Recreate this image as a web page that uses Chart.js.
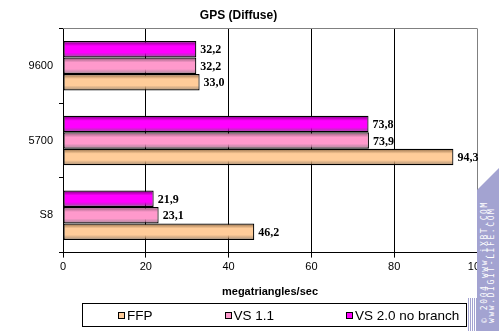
<!DOCTYPE html>
<html lang="en">
<head>
    <meta charset="UTF-8">
    <title>GPS (Diffuse)</title>
    <style>
        body {
            margin: 0;
            background: #fff;
            font-family: Arial, "Liberation Sans", sans-serif;
        }
        .wrap {
            position: relative;
            width: 499px;
            height: 331px;
            overflow: hidden;
        }
        /* legend box under the axis title */
        .legend {
            position: absolute;
            left: 82px;
            top: 303px;
            width: 348px;
            height: 22px;
            border: 1px solid #000;
            display: flex;
            align-items: center;
            padding-left: 35px;
            box-sizing: content-box;
            font-size: 13.5px;
            color: #000;
        }
        .legend .item {
            display: flex;
            align-items: center;
            margin-right: 72px;
            white-space: nowrap;
        }
        .legend .swatch {
            width: 5px;
            height: 5px;
            border: 1px solid #000;
            margin-right: 2px;
        }
        /* site stamp on the right edge */
        .stamp {
            position: absolute;
            left: 477px;
            top: 168px;
            width: 22px;
            height: 163px;
            background: #a3a3d1;
            clip-path: polygon(0 22px, 22px 0, 22px 100%, 0 100%);
        }
        .stamp .txt {
            position: absolute;
            left: 4px;
            top: 155px;
            transform-origin: left top;
            transform: rotate(-90deg);
            font-family: "DejaVu Sans Mono", monospace;
            font-size: 8px;
            line-height: 7px;
            letter-spacing: 1.6px;
            color: #fff;
            white-space: nowrap;
        }
        .stripes {
            position: absolute;
            left: 468px;
            top: 298px;
            width: 9px;
            height: 33px;
            background: repeating-linear-gradient(90deg, #a3a3d1 0 1px, #fff 1px 2px);
        }
    </style>
</head>
<body>
<div class="wrap">
    <canvas id="gps" width="499" height="331"></canvas>
    <div class="legend" id="legend"></div>
    <div class="stripes"></div>
    <div class="stamp"><div class="txt">© 2004 www.iXBT.COM<br>www.DIGIT-LIFE.COM</div></div>
</div>

<script src="https://cdn.jsdelivr.net/npm/chart.js"></script>
<script>
    // categories top to bottom
    const cards = ['9600', '5700', 'S8'];
    const seriesNames = ['FFP', 'VS 1.1', 'VS 2.0 no branch'];
    const ffp = [33.0, 94.3, 46.2];
    const vs11 = [32.2, 73.9, 23.1];
    const vs20 = [32.2, 73.8, 21.9];
    const xTicks = [0, 20, 40, 60, 80, 100];

    // [edge shade, light face] for each series
    const shades = {
        'FFP': ['#8f6a45', '#ffcc99'],
        'VS 1.1': ['#8d5a76', '#ff99cc'],
        'VS 2.0 no branch': ['#7a007a', '#ff00ff']
    };
    const catPct = 0.66;

    // vertical shading across each bar, computed from the category scale
    function barFill(ctx) {
        const chart = ctx.chart;
        const y = chart.scales.y;
        const ds = ctx.datasetIndex;
        const s = shades[chart.data.datasets[ds].label];
        if (!y || ctx.dataIndex === undefined) return s[1];
        const n = chart.data.datasets.length;
        const catH = y.height / cards.length;
        const barH = catH * catPct / n;
        const center = y.getPixelForValue(ctx.dataIndex);
        const top = center - catH * catPct / 2 + ds * barH;
        if (!isFinite(top) || !isFinite(barH) || barH <= 0) return s[1];
        const g = chart.ctx.createLinearGradient(0, top, 0, top + barH);
        g.addColorStop(0, s[0]);
        g.addColorStop(0.3, s[1]);
        g.addColorStop(0.7, s[1]);
        g.addColorStop(1, s[0] + 'aa');
        return g;
    }

    // value labels to the right of every bar, comma decimals
    const valueLabels = {
        id: 'valueLabels',
        afterDatasetsDraw(chart) {
            const c = chart.ctx;
            c.save();
            c.font = 'bold 12px "Liberation Serif", "Times New Roman", serif';
            c.fillStyle = '#000';
            c.textBaseline = 'middle';
            chart.data.datasets.forEach((ds, i) => {
                chart.getDatasetMeta(i).data.forEach((bar, j) => {
                    const txt = ds.data[j].toFixed(1).replace('.', ',');
                    c.fillText(txt, bar.x + 4, bar.y + 1);
                });
            });
            c.restore();
        }
    };

    // gray frame on top of the plot
    const plotFrame = {
        id: 'plotFrame',
        afterDraw(chart) {
            const a = chart.chartArea;
            const c = chart.ctx;
            c.save();
            c.strokeStyle = '#808080';
            c.lineWidth = 1;
            c.beginPath();
            c.moveTo(a.left, Math.round(a.top) + 0.5);
            c.lineTo(a.right, Math.round(a.top) + 0.5);
            c.stroke();
            c.restore();
        }
    };

    // drawn top to bottom inside each category
    const stackOrder = [[vs20, 2], [vs11, 1], [ffp, 0]];
    const datasets = stackOrder.map(([vals, k]) => ({
        label: seriesNames[k],
        data: vals,
        backgroundColor: barFill,
        borderColor: '#000',
        borderWidth: 1.2,
        borderSkipped: false,
        barPercentage: 1,
        categoryPercentage: catPct
    }));

    const chart = new Chart(document.getElementById('gps'), {
        type: 'bar',
        data: { labels: cards, datasets: datasets },
        options: {
            indexAxis: 'y',
            responsive: false,
            animation: false,
            layout: { padding: { left: 0, right: 22, top: 0, bottom: 31 } },
            plugins: {
                legend: { display: false },
                tooltip: { enabled: false },
                title: {
                    display: true,
                    text: 'GPS (Diffuse)',
                    color: '#000',
                    font: { family: 'Arial, "Liberation Sans", sans-serif', size: 12, weight: 'bold' },
                    padding: { top: 8, bottom: 6 }
                }
            },
            scales: {
                x: {
                    min: 0,
                    max: 100,
                    afterBuildTicks(scale) {
                        scale.ticks = xTicks.map(v => ({ value: v }));
                    },
                    ticks: {
                        color: '#000',
                        padding: 3,
                        font: { family: 'Arial, "Liberation Sans", sans-serif', size: 11 }
                    },
                    grid: {
                        color: ctx => (ctx.tick && ctx.tick.value === 100 ? '#808080' : '#000'),
                        tickColor: '#000',
                        tickLength: 5,
                        lineWidth: 1
                    },
                    border: { color: '#000', width: 1 },
                    title: {
                        display: true,
                        text: 'megatriangles/sec',
                        color: '#000',
                        font: { family: 'Arial, "Liberation Sans", sans-serif', size: 11, weight: 'bold' },
                        padding: { top: 9, bottom: 1 }
                    }
                },
                y: {
                    afterFit(scale) { scale.width = 63; },
                    ticks: {
                        color: '#000',
                        padding: 6,
                        font: { family: 'Arial, "Liberation Sans", sans-serif', size: 11 }
                    },
                    grid: {
                        offset: true,
                        drawOnChartArea: false,
                        tickColor: '#000',
                        tickLength: 4
                    },
                    border: { color: '#000', width: 1 }
                }
            }
        },
        plugins: [valueLabels, plotFrame]
    });
    // second pass so the bar shading sees laid-out scales
    chart.update();

    // legend built from the same series
    const legend = document.getElementById('legend');
    seriesNames.forEach(name => {
        const item = document.createElement('div');
        item.className = 'item';
        const sw = document.createElement('span');
        sw.className = 'swatch';
        sw.style.background = shades[name][1];
        item.appendChild(sw);
        item.appendChild(document.createTextNode(name));
        legend.appendChild(item);
    });
</script>
</body>
</html>
